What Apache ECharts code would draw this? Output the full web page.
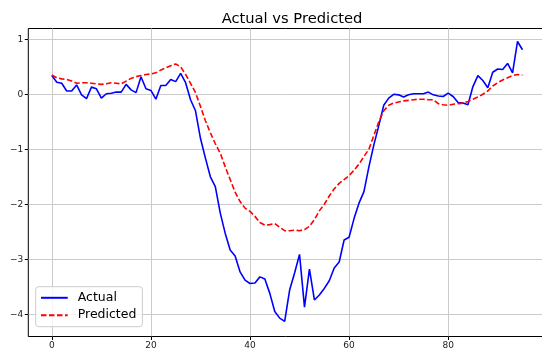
<!DOCTYPE html>
<html>
<head>
<meta charset="utf-8">
<script src="https://cdn.jsdelivr.net/npm/echarts@6/dist/echarts.min.js"></script>
<style>
html,body{margin:0;padding:0;background:#fff;}
#chart{width:542px;height:358px;}
</style>
</head>
<body>
<div id="chart"></div>
<script>
const titleText = "Actual vs Predicted";
const seriesNames = ["Actual", "Predicted"];
const actual = [
 0.34, 0.22, 0.20, 0.06, 0.06, 0.17, -0.01, -0.08, 0.13, 0.10,
 -0.07, 0.01, 0.02, 0.04, 0.04, 0.18, 0.08, 0.03, 0.32, 0.10,
 0.07, -0.09, 0.16, 0.16, 0.27, 0.23, 0.38, 0.21, -0.10, -0.30,
 -0.80, -1.16, -1.50, -1.68, -2.16, -2.53, -2.83, -2.94, -3.23, -3.38,
 -3.44, -3.43, -3.32, -3.36, -3.62, -3.95, -4.07, -4.13, -3.56, -3.25,
 -2.91, -3.87, -3.18, -3.74, -3.65, -3.53, -3.39, -3.16, -3.05, -2.65,
 -2.60, -2.26, -1.98, -1.77, -1.32, -0.92, -0.57, -0.20, -0.07, 0.00,
 -0.01, -0.05, -0.01, 0.01, 0.01, 0.01, 0.04, -0.01, -0.03, -0.04,
 0.02, -0.04, -0.15, -0.16, -0.19, 0.14, 0.34, 0.25, 0.12, 0.40,
 0.46, 0.45, 0.56, 0.39, 0.96, 0.81
];
const predicted = [
 0.35, 0.30, 0.28, 0.27, 0.24, 0.20, 0.21, 0.21, 0.20, 0.19,
 0.18, 0.19, 0.21, 0.20, 0.19, 0.24, 0.29, 0.32, 0.34, 0.36,
 0.37, 0.39, 0.44, 0.48, 0.52, 0.55, 0.50, 0.36, 0.20, 0.03,
 -0.22, -0.48, -0.70, -0.90, -1.07, -1.32, -1.55, -1.78, -1.95, -2.07,
 -2.13, -2.22, -2.33, -2.38, -2.37, -2.35, -2.42, -2.48, -2.48, -2.47,
 -2.48, -2.46, -2.40, -2.28, -2.12, -2.00, -1.85, -1.72, -1.62, -1.55,
 -1.48, -1.38, -1.27, -1.13, -1.00, -0.75, -0.50, -0.30, -0.20, -0.16,
 -0.14, -0.12, -0.11, -0.10, -0.09, -0.09, -0.10, -0.10, -0.17, -0.19,
 -0.20, -0.18, -0.17, -0.16, -0.13, -0.09, -0.05, 0.00, 0.06, 0.15,
 0.21, 0.26, 0.30, 0.34, 0.36, 0.35
];
const xTicks = [0, 20, 40, 60, 80];
const yTicks = [-4, -3, -2, -1, 0, 1];

const xs = actual.map((_, i) => i);
const chart = echarts.init(document.getElementById('chart'), null, {renderer: 'canvas'});
const fontFam = "DejaVu Sans";
const minus = v => String(v).replace('-', '\u2212');
chart.setOption({
  animation: false,
  backgroundColor: '#ffffff',
  title: {
    text: titleText,
    left: 287, top: 7, textAlign: 'center',
    textStyle: {fontFamily: fontFam, fontSize: 14.7, fontWeight: 'normal', color: '#000'}
  },
  grid: {
    left: 28.3, right: -4, top: 28.5, bottom: 21.5,
    containLabel: false, outerBoundsMode: 'none',
    show: true, borderColor: '#000', borderWidth: 1, backgroundColor: 'transparent'
  },
  legend: {
    orient: 'vertical', left: 35.7, top: 286.7,
    padding: [4.6, 6, 5, 4.3],
    itemWidth: 26.7, itemHeight: 14, itemGap: 4.4,
    backgroundColor: 'rgba(255,255,255,0.8)',
    borderColor: '#cccccc', borderWidth: 1, borderRadius: 3,
    itemStyle: {opacity: 0},
    textStyle: {fontFamily: fontFam, fontSize: 12.5, color: '#000', padding: [0,0,0,5]},
    data: seriesNames
  },
  xAxis: {
    type: 'value', min: -4.75, max: 99.75,
    axisLine: {show: false, onZero: false},
    axisTick: {show: true, length: 3.5, customValues: xTicks, lineStyle: {color: '#000', width: 1}},
    axisLabel: {customValues: xTicks, fontFamily: fontFam, fontSize: 9, color: '#222', margin: 5},
    splitLine: {show: true, lineStyle: {color: '#cbcbcb', width: 1}}
  },
  yAxis: {
    type: 'value', min: -4.404, max: 1.196,
    axisLine: {show: false, onZero: false},
    axisTick: {show: true, length: 3.5, customValues: yTicks, lineStyle: {color: '#000', width: 1}},
    axisLabel: {customValues: yTicks, fontFamily: fontFam, fontSize: 9, color: '#222', margin: 5, formatter: minus},
    splitLine: {show: true, lineStyle: {color: '#cbcbcb', width: 1}}
  },
  series: [
    {
      name: seriesNames[0], type: 'line', symbol: 'none', showSymbol: false,
      data: xs.map(i => [i, actual[i]]),
      lineStyle: {color: '#0000ff', width: 1.6},
      itemStyle: {color: '#0000ff'}, z: 3
    },
    {
      name: seriesNames[1], type: 'line', symbol: 'none', showSymbol: false,
      data: xs.map(i => [i, predicted[i]]),
      lineStyle: {color: '#ff0000', width: 1.6, type: [5.5, 2.5]},
      itemStyle: {color: '#ff0000'}, z: 4
    }
  ]
});
</script>
</body>
</html>
